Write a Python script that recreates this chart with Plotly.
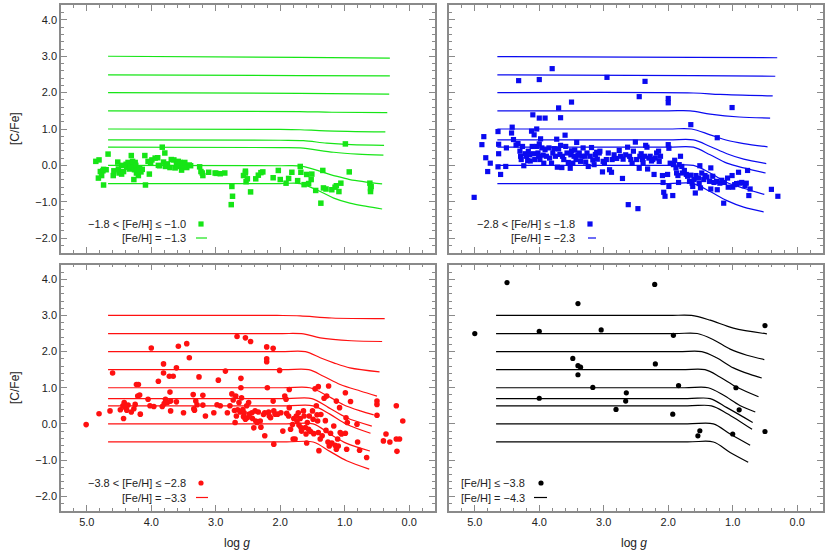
import plotly.graph_objects as go

# ---------------- observed stars ----------------
green_logg = [4.86, 4.81, 4.82, 4.79, 4.77, 4.75, 4.74, 4.74, 4.70, 4.67, 4.59, 4.58, 4.52, 4.51, 4.50, 4.46, 4.46,
              4.43, 4.39, 4.38, 4.36, 4.34, 4.32, 4.31, 4.29, 4.28, 4.27, 4.26, 4.25, 4.24, 4.23, 4.21, 4.20, 4.18,
              4.16, 4.14, 4.10, 4.09, 4.05, 4.03, 4.01, 3.99, 3.94, 3.90, 3.89, 3.87, 3.83, 3.81, 3.79, 3.78, 3.75,
              3.71, 3.69, 3.65, 3.63, 3.61, 3.58, 3.57, 3.55, 3.53, 3.50, 3.48, 3.45, 3.41, 3.39, 3.25, 3.23, 3.21,
              3.20, 3.11, 3.01, 2.99, 2.93, 2.86, 2.75, 2.74, 2.76, 2.57, 2.54, 2.54, 2.53, 2.51, 2.46, 2.38, 2.34,
              2.30, 2.27, 2.11, 2.03, 2.00, 1.91, 1.87, 1.82, 1.73, 1.69, 1.68, 1.63, 1.59, 1.56, 1.52, 1.51, 1.45,
              1.37, 1.34, 1.33, 1.29, 1.20, 1.15, 1.13, 1.09, 1.06, 0.99, 0.93, 0.61, 0.60, 0.60, 0.59]
green_cfe = [0.11, 0.15, -0.35, -0.17, -0.28, -0.15, -0.11, -0.54, -0.12, 0.31, -0.28, -0.15, 0.09, -0.10, -0.21,
             -0.24, 0.00, -0.17, 0.03, -0.05, 0.08, -0.10, -0.03, 0.27, 0.11, -0.06, -0.39, -0.12, 0.08, 0.00, -0.21,
             -0.14, -0.28, -0.07, -0.18, -0.11, 0.27, -0.54, 0.11, -0.24, 0.06, 0.15, 0.20, 0.21, 0.00, -0.01, 0.50,
             0.09, 0.34, -0.03, 0.04, -0.06, 0.16, 0.15, -0.07, 0.03, 0.11, -0.03, 0.08, -0.13, -0.01, 0.08, -0.06,
             0.01, -0.01, -0.04, -0.17, -0.21, -0.28, -0.19, -0.21, -0.22, -0.23, -0.21, -0.58, -0.85, -1.08, -0.28,
             -0.16, -0.21, -0.45, -0.37, -0.73, -0.37, -0.27, -0.20, -0.18, -0.34, -0.14, -0.39, -0.49, -0.36, -0.19,
             -0.42, -0.03, -0.19, -0.53, -0.25, -0.50, -0.39, -0.24, -0.69, -1.04, -0.14, -0.62, -0.65, -0.67, -0.60,
             -0.56, -0.72, -0.49, 0.59, -0.18, -0.49, -0.64, -0.72, -0.58]

blue_logg = [4.32, 4.00, 3.80, 2.95, 2.36, 2.45, 2.00, 2.00, 3.50, 3.70, 3.67, 4.10, 4.00, 3.91, 1.01, 1.65, 1.24,
             5.01, 4.80, 4.76, 4.83, 4.89, 4.86, 4.64, 4.63, 4.63, 4.60, 4.64, 4.52, 4.51, 4.43, 4.42, 4.40, 4.36,
             4.33, 4.30, 4.29, 4.28, 4.26, 4.24, 4.22, 4.20, 4.18, 4.17, 4.15, 4.14, 4.12, 4.11, 4.09, 4.08, 4.07,
             4.04, 4.04, 4.02, 4.01, 4.00, 3.99, 3.98, 3.96, 3.94, 3.93, 3.91, 3.89, 3.85, 3.84, 3.81, 3.79, 3.77,
             3.75, 3.73, 3.72, 3.70, 3.68, 3.67, 3.65, 3.64, 3.62, 3.60, 3.59, 3.57, 3.55, 3.52, 3.51, 3.50, 3.48,
             3.46, 3.45, 3.43, 3.42, 3.40, 3.38, 3.36, 3.34, 3.32, 3.29, 3.28, 3.26, 3.24, 3.21, 3.19, 3.17, 3.15,
             3.13, 3.11, 3.10, 3.07, 3.06, 3.02, 3.01, 2.99, 2.96, 2.93, 2.91, 2.88, 2.87, 2.84, 2.80, 2.76, 2.74,
             2.71, 2.70, 2.66, 2.63, 2.62, 2.60, 2.58, 2.56, 2.54, 2.51, 2.49, 2.47, 2.45, 2.44, 2.42, 2.40, 2.39,
             2.37, 2.35, 2.33, 2.32, 2.30, 2.28, 2.26, 2.24, 2.22, 2.20, 2.18, 2.15, 2.14, 2.12, 2.09, 2.08, 2.07,
             2.05, 2.01, 2.00, 1.99, 1.97, 1.99, 1.93, 1.92, 1.90, 1.88, 1.87, 1.85, 1.84, 1.83, 1.81, 1.79, 1.78,
             1.75, 1.72, 1.70, 1.67, 1.65, 1.63, 1.62, 1.60, 1.58, 1.57, 1.53, 1.52, 1.51, 1.50, 1.48, 1.45, 1.43,
             1.40, 1.36, 1.34, 1.34, 1.31, 1.29, 1.25, 1.24, 1.20, 1.17, 1.14, 1.13, 1.08, 1.07, 1.01, 1.00, 0.97,
             0.94, 0.91, 0.89, 0.86, 0.81, 0.79, 0.77, 0.75, 0.73, 0.40, 0.30]
blue_cfe = [2.33, 2.36, 2.66, 2.42, 2.31, 1.89, 1.84, 1.72, 1.74, 1.58, 1.31, 1.39, 1.30, 1.30, 1.59, 1.12, 0.76,
            -0.88, -0.17, 0.06, 0.21, 0.57, 0.79, 0.93, 0.58, 0.32, -0.25, -0.04, -0.03, 0.48, 0.89, 1.05, 0.71, 0.56,
            0.60, 0.39, 0.25, 0.16, 0.52, -0.01, 0.32, 0.25, 0.13, 0.39, 0.29, 0.12, 0.94, 0.52, 0.32, 0.84, 0.16,
            1.00, 0.52, 0.34, 0.25, 0.59, 0.16, 0.73, 0.48, 0.28, 0.06, 0.43, 0.25, 0.48, 0.20, 0.06, 0.34, 0.46,
            0.25, 0.72, -0.05, 0.45, 0.30, 0.55, -0.06, 0.25, 0.16, 0.83, 0.52, 0.34, 0.08, -0.08, 0.29, 0.40, 0.06,
            0.25, 0.42, 0.16, 0.63, 0.28, 0.34, 0.11, 0.25, 0.48, 0.25, 0.09, 0.34, -0.03, 0.25, 0.49, 0.15, 0.02,
            0.30, 0.36, 0.17, 0.34, 0.39, -0.18, 0.11, 0.08, 0.16, 0.34, -0.12, -0.19, 0.16, 0.29, 0.19, 0.41, 0.25,
            -0.36, 0.17, 0.29, 0.50, -1.08, 0.25, 0.16, 0.06, 0.39, 0.64, 0.16, -1.19, -0.08, 0.25, 0.32, 0.16, 0.08,
            0.25, 0.55, 0.50, -0.10, 0.20, 0.25, 0.12, 0.16, -0.25, 0.20, 0.34, 0.39, 0.11, 0.25, -0.28, -0.47, -0.74,
            -0.85, -0.25, 0.57, 0.47, 0.06, -0.58, -0.83, 0.02, 0.14, -0.07, -0.21, -0.28, -0.47, 0.02, 0.25, -0.03,
            -0.21, -0.14, -0.25, -0.30, -0.44, -0.27, -0.49, -0.58, -0.39, -0.76, -0.28, -0.35, -0.50, -0.01, -0.62,
            -0.21, -0.39, -0.28, -0.32, -0.44, -0.07, -0.65, -0.30, -0.47, -0.44, -0.67, -0.49, -0.41, -1.04, -0.47,
            -0.35, -0.60, -0.28, -0.60, -0.53, -0.50, -0.19, -0.49, -0.47, -0.56, -0.49, -0.14, -0.83, -0.65, -0.66,
            -0.85]

red_logg = [5.01, 4.81, 4.64, 4.60, 4.48, 4.44, 4.42, 4.40, 4.38, 4.36, 4.43, 4.31, 4.27, 4.25, 4.23, 4.20, 4.21,
            4.18, 4.17, 4.05, 4.02, 4.00, 3.96, 3.89, 3.83, 3.81, 3.81, 3.80, 3.78, 3.75, 3.72, 3.71, 3.70, 3.70,
            3.66, 3.61, 3.61, 3.58, 3.50, 3.45, 3.41, 3.35, 3.34, 3.33, 3.31, 3.29, 3.26, 3.20, 3.20, 3.16, 3.03,
            2.98, 2.96, 2.93, 2.85, 2.82, 2.78, 2.75, 2.73, 2.71, 2.70, 2.69, 2.68, 2.67, 2.66, 2.64, 2.62, 2.61,
            2.61, 2.60, 2.58, 2.57, 2.56, 2.54, 2.54, 2.52, 2.51, 2.49, 2.48, 2.46, 2.44, 2.43, 2.41, 2.39, 2.38,
            2.36, 2.34, 2.31, 2.30, 2.26, 2.24, 2.21, 2.21, 2.21, 2.20, 2.24, 2.18, 2.17, 2.15, 2.11, 2.11, 2.10,
            2.10, 2.08, 2.04, 2.01, 1.99, 1.96, 1.93, 1.91, 1.90, 1.87, 1.86, 1.86, 1.84, 1.81, 1.80, 1.79, 1.77,
            1.75, 1.74, 1.72, 1.71, 1.69, 1.68, 1.67, 1.64, 1.63, 1.61, 1.60, 1.59, 1.58, 1.56, 1.55, 1.53, 1.50,
            1.49, 1.48, 1.44, 1.43, 1.42, 1.41, 1.40, 1.38, 1.37, 1.35, 1.32, 1.30, 1.29, 1.28, 1.26, 1.25, 1.24,
            1.22, 1.20, 1.17, 1.15, 1.13, 1.10, 1.08, 1.07, 1.05, 0.99, 0.98, 0.97, 0.96, 1.13, 1.11, 0.99, 0.91,
            0.81, 0.80, 0.77, 0.66, 0.50, 0.50, 0.50, 0.40, 0.36, 0.30, 0.20, 0.20, 0.19, 0.15, 0.10, 1.41, 1.46]
red_cfe = [-0.02, 0.28, 0.36, 1.41, 0.39, 0.50, 0.59, 0.45, 0.38, 0.52, 0.15, 0.33, 0.42, 0.54, 1.09, 1.09, 0.77,
           0.80, 0.27, 0.68, 0.50, 2.10, 0.48, 1.18, 0.48, 1.41, 1.66, 0.56, 0.68, 0.59, 1.32, 0.88, 0.63, 0.36,
           1.32, 1.55, 0.61, 2.15, 0.31, 2.22, 1.83, 0.81, 0.42, 0.38, 0.63, 0.53, 1.30, 0.79, 0.52, 0.22, 0.31,
           0.53, 1.21, 0.50, 1.46, 0.31, 0.50, 0.83, 0.66, 0.37, 0.04, 0.77, 0.22, 2.42, 0.39, 0.59, 0.33, 1.00,
           1.26, 0.72, 0.40, 0.20, 0.31, 2.38, 0.13, 0.50, 0.17, 0.59, 0.27, 2.28, 0.31, 0.15, -0.11, 0.36, 0.08,
           0.04, 0.33, 0.08, -0.09, 0.26, 0.31, 2.13, 1.80, 1.72, 1.00, -0.33, 0.33, 0.22, 0.17, 2.09, 0.63, 0.36,
           -0.56, 0.27, 0.27, 1.48, 0.31, -0.20, 0.77, 0.68, 0.29, 0.22, 0.95, 0.45, -0.15, -0.02, -0.42, 0.15, -0.42,
           0.22, 0.08, 0.31, -0.03, 0.15, -0.10, -0.20, 0.36, 0.22, -0.10, -0.28, -0.53, 0.04, -0.15, 0.22, -0.21, 0.36,
           0.13, -0.27, 0.50, 0.25, 0.08, -0.24, -0.74, -0.42, 0.26, -0.33, 0.71, 0.09, -0.18, 0.77, -0.50, 1.05, -0.61,
           -0.26, -0.53, -0.06, -0.59, -0.70, -0.61, 0.45, -0.24, -0.28, -0.26, 0.17, -0.70, 0.04, 0.63, -0.42, 0.86, 0.62,
           -0.01, -0.50, -0.73, -0.93, 0.63, 0.54, 0.24, -0.47, -0.28, -0.50, 0.50, -0.42, -0.76, -0.42, 0.08, 1.03, 0.97]

black_logg = [4.50, 2.21, 3.40, 5.00, 4.00, 3.04, 1.92, 0.50, 3.48, 3.40, 3.36, 3.40, 2.20, 3.17, 1.84, 0.95,
              4.00, 2.65, 2.66, 2.81, 1.93, 0.90, 1.51, 1.54, 1.00, 0.50]
black_cfe = [3.91, 3.86, 3.33, 2.50, 2.56, 2.60, 2.45, 2.72, 1.81, 1.61, 1.57, 1.36, 1.66, 1.01, 1.06, 1.00,
             0.71, 0.86, 0.63, 0.40, 0.27, 0.39, -0.19, -0.33, -0.28, -0.21]

# ---------------- model tracks ([C/Fe] vs log g) ----------------
green_model_logg = [
    [4.67, 1.70, 0.30], [4.67, 1.70, 0.30], [4.67, 1.70, 0.31],
    [4.67, 1.70, 1.20, 0.34], [4.67, 2.00, 1.69, 1.30, 0.37],
    [4.67, 2.00, 1.64, 1.28, 0.90, 0.39], [4.67, 2.00, 1.69, 1.17, 0.80, 0.40],
    [4.67, 2.00, 1.67, 1.17, 0.92, 0.42], [4.67, 2.00, 1.69, 1.38, 1.17, 0.92, 0.66, 0.42]]
green_model_cfe = [
    [3.00, 2.97, 2.95], [2.49, 2.47, 2.46], [2.00, 1.98, 1.96],
    [1.50, 1.48, 1.46, 1.45], [1.00, 0.99, 0.98, 0.95, 0.92],
    [0.70, 0.69, 0.68, 0.61, 0.57, 0.55], [0.50, 0.49, 0.48, 0.36, 0.31, 0.28],
    [0.00, -0.01, -0.02, -0.28, -0.39, -0.51], [-0.50, -0.50, -0.50, -0.72, -0.90, -1.04, -1.13, -1.20]]

blue_model_logg = [
    [4.65, 1.60, 0.31], [4.65, 1.60, 0.34], [4.65, 1.61, 1.20, 0.38],
    [4.65, 2.00, 1.66, 1.35, 0.90, 0.42], [4.65, 2.00, 1.64, 1.35, 1.09, 0.83, 0.46],
    [4.65, 2.00, 1.61, 1.35, 1.09, 0.83, 0.48], [4.65, 2.00, 1.61, 1.35, 1.09, 0.83, 0.49],
    [4.65, 2.00, 1.61, 1.35, 1.09, 0.83, 0.51], [4.65, 2.00, 1.61, 1.35, 1.09, 0.83, 0.52]]
blue_model_cfe = [
    [2.99, 2.97, 2.96], [2.49, 2.47, 2.45], [2.00, 1.99, 1.95, 1.91],
    [1.50, 1.50, 1.50, 1.41, 1.33, 1.30], [1.00, 1.00, 1.00, 0.84, 0.69, 0.60, 0.51],
    [0.70, 0.70, 0.70, 0.52, 0.32, 0.17, 0.05], [0.50, 0.50, 0.50, 0.29, 0.06, -0.07, -0.21],
    [0.00, 0.00, 0.00, -0.21, -0.47, -0.63, -0.80], [-0.50, -0.50, -0.50, -0.72, -0.97, -1.15, -1.28]]

red_model_logg = [
    [4.67, 2.05, 1.69, 1.20, 0.38], [4.67, 2.00, 1.64, 1.38, 0.90, 0.42],
    [4.67, 2.00, 1.61, 1.38, 1.17, 0.92, 0.46], [4.67, 1.95, 1.56, 1.33, 1.07, 0.76, 0.50],
    [4.67, 1.95, 1.54, 1.28, 1.02, 0.76, 0.55], [4.67, 1.90, 1.51, 1.25, 0.97, 0.58],
    [4.67, 1.90, 1.49, 1.23, 0.97, 0.60], [4.67, 1.90, 1.49, 1.23, 0.97, 0.61],
    [4.67, 1.90, 1.49, 1.23, 0.97, 0.62]]
red_model_cfe = [
    [3.00, 3.00, 2.99, 2.93, 2.91], [2.50, 2.50, 2.49, 2.38, 2.30, 2.28],
    [2.00, 2.00, 2.00, 1.83, 1.69, 1.55, 1.44], [1.50, 1.50, 1.50, 1.32, 1.09, 0.91, 0.77],
    [1.00, 1.00, 1.00, 0.79, 0.53, 0.36, 0.25], [0.70, 0.70, 0.70, 0.45, 0.17, -0.06],
    [0.50, 0.50, 0.50, 0.27, -0.01, -0.26], [0.00, 0.00, 0.00, -0.28, -0.54, -0.75],
    [-0.50, -0.50, -0.50, -0.76, -1.02, -1.25]]

black_model_logg = [
    [4.67, 2.00, 1.64, 1.35, 0.99, 0.47], [4.67, 1.90, 1.55, 1.30, 1.04, 0.78, 0.51],
    [4.67, 1.85, 1.48, 1.25, 0.99, 0.73, 0.55], [4.67, 1.80, 1.43, 1.20, 0.94, 0.60],
    [4.67, 1.75, 1.38, 1.14, 0.89, 0.65], [4.67, 1.70, 1.35, 1.09, 0.69],
    [4.67, 1.70, 1.33, 1.09, 0.70], [4.67, 1.70, 1.30, 1.04, 0.73], [4.67, 1.70, 1.30, 1.04, 0.76]]
black_model_cfe = [
    [3.00, 3.00, 3.00, 2.87, 2.65, 2.49], [2.50, 2.50, 2.50, 2.33, 2.07, 1.90, 1.78],
    [2.00, 2.00, 2.00, 1.83, 1.55, 1.37, 1.27], [1.50, 1.50, 1.50, 1.30, 1.02, 0.75],
    [1.00, 1.00, 1.00, 0.79, 0.51, 0.33], [0.70, 0.70, 0.70, 0.45, 0.04],
    [0.50, 0.50, 0.50, 0.29, -0.15], [0.00, 0.00, 0.00, -0.28, -0.59], [-0.50, -0.50, -0.50, -0.79, -1.06]]

obs_labels = ["\u22121.8 < [Fe/H] \u2264 \u22121.0", "\u22122.8 < [Fe/H] \u2264 \u22121.8",
              "\u22123.8 < [Fe/H] \u2264 \u22122.8", "[Fe/H] \u2264 \u22123.8"]
model_labels = ["[Fe/H] = \u22121.3", "[Fe/H] = \u22122.3", "[Fe/H] = \u22123.3", "[Fe/H] = \u22124.3"]

# ---------------- figure ----------------
W, H = 830, 554
ML, MR, MT, MB = 61, 7, 5, 43
PW, PH = W - ML - MR, H - MT - MB


def px_x(p):
    return (p - ML) / PW


def px_y(p):
    return (H - MB - p) / PH


x_dom = [[0, px_x(435)], [px_x(449), 1]]
y_dom = [[px_y(253), 1], [0, px_y(264.5)]]

colors = ["#16e516", "#0a0af0", "#ff1010", "#000000"]
symbols = ["square", "square", "circle", "circle"]
msizes = [5.5, 5.2, 5.6, 5.2]
obs = [(green_logg, green_cfe), (blue_logg, blue_cfe), (red_logg, red_cfe), (black_logg, black_cfe)]
models = [(green_model_logg, green_model_cfe), (blue_model_logg, blue_model_cfe),
          (red_model_logg, red_model_cfe), (black_model_logg, black_model_cfe)]

fig = go.Figure()
FONT = "Liberation Sans, Arial, Helvetica, sans-serif"

for i in range(4):
    ax = "" if i == 0 else str(i + 1)
    xa, ya = "x" + ax, "y" + ax
    mlg, mcf = models[i]
    for lg, cf in zip(mlg, mcf):
        fig.add_trace(go.Scatter(x=lg, y=cf, mode="lines", xaxis=xa, yaxis=ya,
                                 line=dict(color=colors[i], width=1.2, shape="spline", smoothing=0.9),
                                 showlegend=False, hoverinfo="skip"))
    olg, ocf = obs[i]
    fig.add_trace(go.Scatter(x=olg, y=ocf, mode="markers", xaxis=xa, yaxis=ya,
                             marker=dict(color=colors[i], symbol=symbols[i], size=msizes[i], line=dict(width=0)),
                             showlegend=False))

    col, row = i % 2, i // 2
    axis_common = dict(showline=True, linecolor="#8a8a8a", linewidth=1.5, mirror="allticks",
                       ticks="inside", tickcolor="#8a8a8a", tickwidth=1, showgrid=False, zeroline=False,
                       tickfont=dict(family=FONT, size=11, color="#222"), tickformat=".1f")
    fig.layout["xaxis" + ax] = dict(axis_common, domain=x_dom[col], range=[5.4, -0.4], dtick=1, tick0=0,
                                    ticklen=6, minor=dict(dtick=0.2, tick0=0, ticklen=3, ticks="inside",
                                                          tickcolor="#8a8a8a"),
                                    showticklabels=(row == 1), anchor=ya)
    fig.layout["yaxis" + ax] = dict(axis_common, domain=y_dom[row], range=[-2.41, 4.41], dtick=1, tick0=0,
                                    ticklen=6, minor=dict(dtick=0.2, tick0=0, ticklen=3, ticks="inside",
                                                          tickcolor="#8a8a8a"),
                                    showticklabels=(col == 0), anchor=xa)

# legends (text right-aligned, sample on the right)
leg = [  # text_right, marker_x, line_x0, line_x1, row1_y, row2_y
    (188, 201, 196, 207, 224, 238),
    (577, 590, 588, 596, 224, 238),
    (188, 201, 196, 208, 483, 497.5),
    (527, 541, 534, 547, 483, 497.5),
]
for i, (tr, mx, l0, l1, r1, r2) in enumerate(leg):
    for txt, yy in ((obs_labels[i], r1), (model_labels[i], r2)):
        fig.add_annotation(x=px_x(tr), y=px_y(yy), xref="paper", yref="paper", text=txt, showarrow=False,
                           xanchor="right", yanchor="middle", font=dict(family=FONT, size=11, color="#222"))
    half = 2.6
    fig.add_shape(type="rect" if symbols[i] == "square" else "circle", xref="paper", yref="paper",
                  xsizemode="pixel", ysizemode="pixel", xanchor=px_x(mx), yanchor=px_y(r1),
                  x0=-half, x1=half, y0=-half, y1=half, fillcolor=colors[i], line=dict(width=0))
    fig.add_shape(type="line", xref="paper", yref="paper", x0=px_x(l0), x1=px_x(l1), y0=px_y(r2), y1=px_y(r2),
                  line=dict(color=colors[i], width=1.2))

# axis titles
for yy in (129, 388):
    fig.add_annotation(x=px_x(15), y=px_y(yy), xref="paper", yref="paper", text="[C/Fe]", textangle=-90,
                       xanchor="center", yanchor="middle",
                       showarrow=False, font=dict(family=FONT, size=12, color="#222"))
for xx in (237, 634):
    fig.add_annotation(x=px_x(xx), y=px_y(543), xref="paper", yref="paper", text="log <i>g</i>",
                       xanchor="center", yanchor="middle",
                       showarrow=False, font=dict(family=FONT, size=12, color="#222"))

fig.update_layout(width=W, height=H, margin=dict(l=ML, r=MR, t=MT, b=MB, autoexpand=False),
                  paper_bgcolor="white", plot_bgcolor="white", showlegend=False)
fig.write_html("out.html", config={"displayModeBar": False},
               post_script="document.body.style.margin='0px';document.body.style.overflow='hidden';")
